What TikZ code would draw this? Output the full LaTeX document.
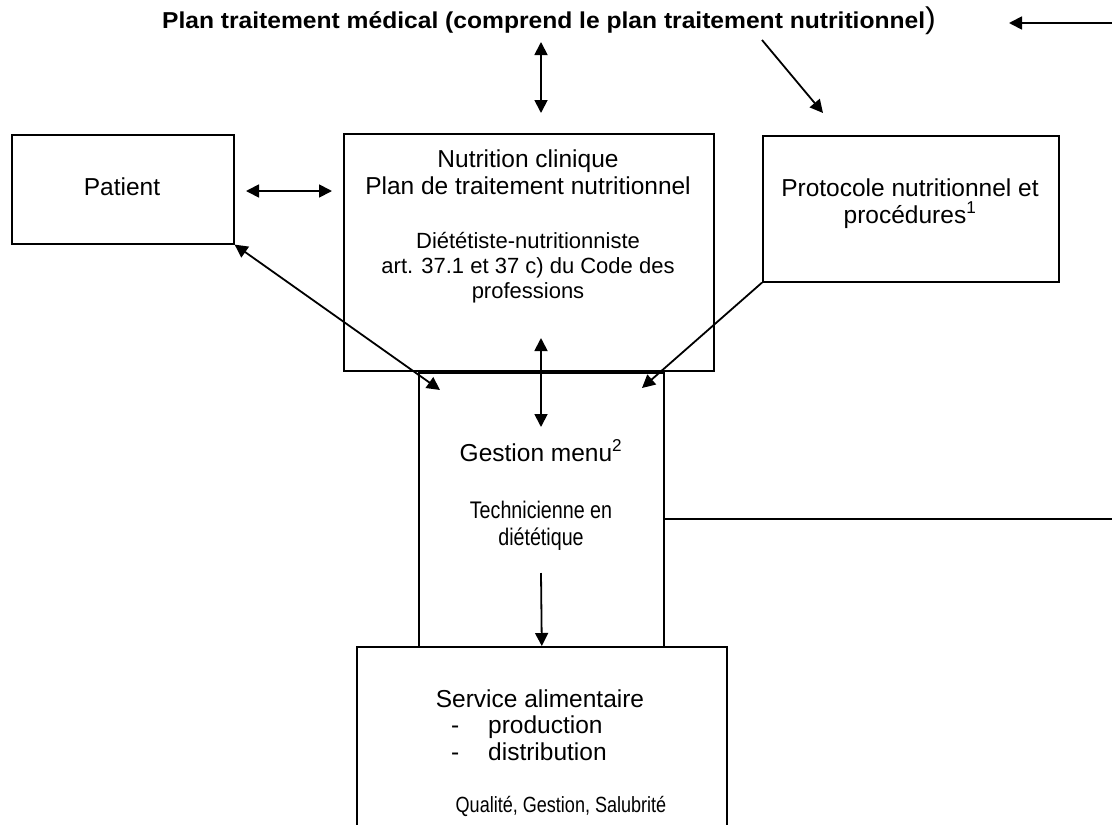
\documentclass[tikz,border=0pt]{standalone}
\usepackage{fontspec}
\setmainfont{Liberation Sans}
\newfontfamily\narrowfont[FakeStretch=0.82]{Liberation Sans}
\newfontfamily\widefont[FakeStretch=1.07]{Liberation Sans}
\usetikzlibrary{arrows.meta,positioning}

\tikzset{
  box/.style={draw, line width=1.6pt, inner sep=0pt},
  txt/.style={align=center, inner sep=0pt, font=\fontsize{24.5}{27}\selectfont},
  smalltxt/.style={align=center, inner sep=0pt, font=\fontsize{22}{25}\selectfont},
  narrowtxt/.style={align=center, inner sep=0pt, font=\narrowfont\fontsize{24}{27}\selectfont},
  arr/.style={line width=1.8pt, -{Triangle[length=13pt,width=13pt]}},
  dbl/.style={line width=1.8pt, {Triangle[length=13pt,width=13pt]}-{Triangle[length=13pt,width=13pt]}},
}

\begin{document}
\begin{tikzpicture}[x=1pt, y=-1pt]
  \useasboundingbox (0,0) rectangle (1112,825);
  \clip (0,0) rectangle (1112,825);

  % boites
  \node[box, anchor=north west, minimum width=222pt, minimum height=109pt] (patient) at (11,134) {};
  \node[box, anchor=north west, minimum width=370pt, minimum height=237pt] (nutrition) at (343,133) {};
  \node[box, anchor=north west, minimum width=296pt, minimum height=146pt] (protocole) at (762,135) {};
  \node[box, anchor=north west, minimum width=245pt, minimum height=274pt] (gestion) at (418,372) {};
  \node[box, anchor=north west, minimum width=370pt, minimum height=220pt] (service) at (356,646) {};

  % textes (base = derniere ligne)
  \node[anchor=base, inner sep=0pt, font=\widefont\bfseries\fontsize{23}{23}\selectfont] (plan) at (549,28)
    {Plan traitement médical (comprend le plan traitement nutritionnel{\mdseries\fontsize{30}{30}\selectfont)}};
  \node[txt, anchor=base] (patientT) at (122,195) {Patient};
  \node[txt, anchor=base] (nutritionT) at (528,194) {Nutrition clinique\\Plan de traitement nutritionnel};
  \node[smalltxt, anchor=base] (dietT) at (528,298) {Diététiste-nutritionniste\\art. 37.1 et 37 c) du Code des\\professions};
  \node[txt, anchor=base] (protocoleT) at (910,223) {Protocole nutritionnel et\\procédures\textsuperscript{1}};
  \node[txt, anchor=base] (gestionT) at (541,461) {Gestion menu\textsuperscript{2}};
  \node[narrowtxt, anchor=base] (techT) at (541,545) {Technicienne en\\diététique};
  \node[txt, anchor=base] (serviceT) at (540,707) {Service alimentaire};
  \node[txt, anchor=base west, align=left] (listeT) at (451,760)
    {\makebox[37pt][l]{-}production\\\makebox[37pt][l]{-}distribution};
  \node[narrowtxt, font=\narrowfont\fontsize{22}{25}\selectfont, anchor=base] (qualiteT) at (561,812) {Qualité, Gestion, Salubrité};

  % bouts libres
  \coordinate (r1) at (1112,23); \coordinate (r2) at (1009,23);
  \coordinate (t1) at (541,42);  \coordinate (t2) at (541,113);
  \coordinate (d1) at (762,40);  \coordinate (d2) at (823,113);
  \coordinate (p1) at (246,191); \coordinate (p2) at (332,191);
  \coordinate (gl) at (440,390); \coordinate (gr) at (642,388);
  \coordinate (m1) at (541,338); \coordinate (m2) at (541,427);
  \coordinate (s1) at (541,573); \coordinate (h) at (1112,519);

  % fleches
  \draw[arr] (r1) -- (r2);
  \draw[dbl] (t1) -- (t2);
  \draw[arr] (d1) -- (d2);
  \draw[dbl] (p1) -- (p2);
  \draw[dbl] (patient.south east) -- (gl);
  \draw[arr] (protocole.south west) -- (gr);
  \draw[dbl] (m1) -- (m2);
  \draw[arr] (s1) -- (service.north);
  \draw[line width=1.6pt] (gestion.east |- h) -- (h);
\end{tikzpicture}
\end{document}
